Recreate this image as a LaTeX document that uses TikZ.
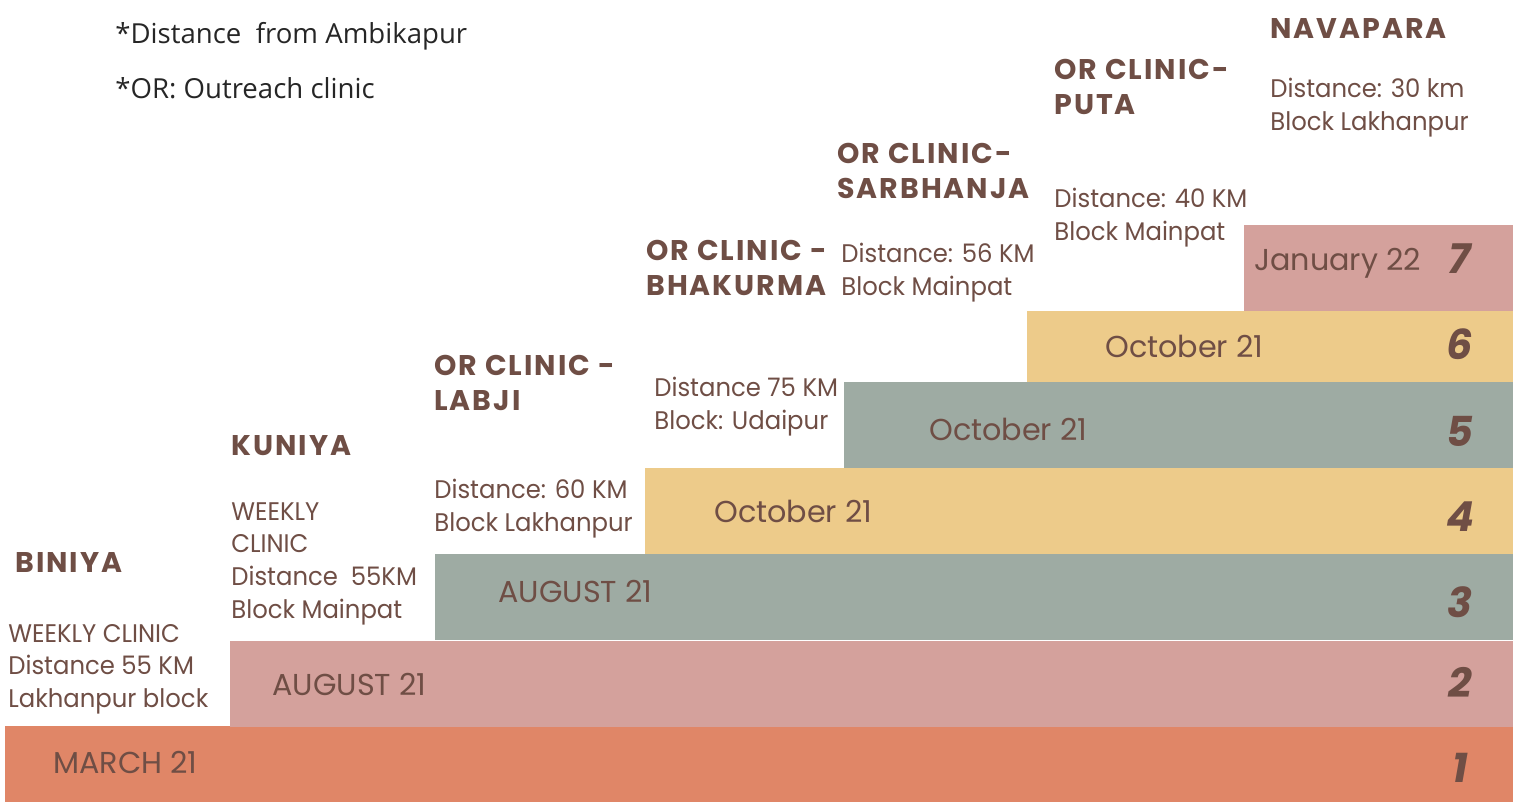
\documentclass[tikz,border=0pt]{standalone}
\usepackage{fontspec}
\setmainfont{Poppins}
\newfontfamily\infofont[FakeStretch=0.955]{Poppins}
\newfontfamily\headfont[LetterSpace=7]{Poppins}
\newfontfamily\notefont{Open Sans}
\usetikzlibrary{positioning, fit}
\definecolor{stepbrown}{HTML}{6F4E45}
\definecolor{steporange}{HTML}{E08667}
\definecolor{steppink}{HTML}{D4A19C}
\definecolor{stepgreen}{HTML}{9EABA3}
\definecolor{stepyellow}{HTML}{EDCB8A}

\begin{document}
\begin{tikzpicture}[x=0.02cm, y=-0.02cm,
    bar/.style={inner sep=0, outer sep=0},
    date/.style={anchor=west, inner sep=0, text=stepbrown, font=\fontsize{17.2}{20}\selectfont},
    num/.style={inner sep=0, text=stepbrown, font=\fontsize{23.5}{26}\selectfont\bfseries\itshape},
    site/.style={anchor=north west, inner sep=0, align=left, text=stepbrown, font=\headfont\bfseries\fontsize{16.2}{19.8}\selectfont},
    info/.style={anchor=north west, inner sep=0, align=left, text=stepbrown, font=\infofont\fontsize{14.5}{18.7}\selectfont},
    note/.style={anchor=base west, inner sep=0, text=black!85, font=\notefont\fontsize{15.7}{18}\selectfont}]
    \useasboundingbox (0,0) rectangle (1513,802);

    % steps, bottom to top
    \node[bar, fill=steporange, fit={(5,726) (1513,802)}] (b1) {};
    \node[bar, fill=steppink, fit={(230,641) (1513,727)}] (b2) {};
    \node[bar, fill=stepgreen, fit={(435,554) (1513,639.5)}] (b3) {};
    \node[bar, fill=stepyellow, fit={(645,468) (1513,554)}] (b4) {};
    \node[bar, fill=stepgreen, fit={(844,382) (1513,468)}] (b5) {};
    \node[bar, fill=stepyellow, fit={(1027,311) (1513,382)}] (b6) {};
    \node[bar, fill=steppink, fit={(1244,225) (1513,311)}] (b7) {};

    \node[date] (d1) at ([xshift=0.96cm, yshift=0.04cm]b1.west) {MARCH 21};
    \node[date] (d2) at ([xshift=0.84cm]b2.west) {AUGUST 21};
    \node[date] (d3) at ([xshift=1.26cm, yshift=0.1cm]b3.west) {AUGUST 21};
    \node[date] (d4) at ([xshift=1.38cm]b4.west) {October 21};
    \node[date] (d5) at ([xshift=1.70cm, yshift=-0.08cm]b5.west) {October 21};
    \node[date] (d6) at ([xshift=1.56cm]b6.west) {October 21};
    \node[date] (d7) at ([xshift=0.20cm, yshift=0.1cm]b7.west) {January 22};

    \foreach \i/\dy in {1/-0.08, 2/0.04, 3/-0.1, 4/-0.12, 5/-0.12, 6/0.04, 7/0.18}
        \node[num] (n\i) at ([xshift=-1.06cm, yshift=\dy cm]b\i.east) {\i};

    % sites
    \node[site] (biniya) at (15,552) {BINIYA};
    \node[info, below=1.02cm of biniya.south west, anchor=north west, xshift=-0.14cm] (biniyainfo) {WEEKLY CLINIC\\Distance 55 KM\\Lakhanpur block};
    \node[site] (kuniya) at (231,435) {KUNIYA};
    \node[info, below=0.92cm of kuniya.south west, anchor=north west] (kuniyainfo) {WEEKLY\\CLINIC\\Distance~~55KM\\Block Mainpat};
    \node[site] (labji) at (434,355) {OR CLINIC -\\LABJI};
    \node[info, below=1.36cm of labji.south west, anchor=north west] (labjiinfo) {Distance: 60 KM\\Block Lakhanpur};
    \node[site] (bhakurma) at (646,240) {OR CLINIC -\\BHAKURMA};
    \node[info] (bhakurmainfo) at (654,377) {Distance 75 KM\\Block: Udaipur};
    \node[site] (sarbhanja) at (837,143) {OR CLINIC-\\SARBHANJA};
    \node[info] (sarbhanjainfo) at (841,243) {Distance: 56 KM\\Block Mainpat};
    \node[site] (puta) at (1054,59) {OR CLINIC-\\PUTA};
    \node[info] (putainfo) at (1054,188) {Distance: 40 KM\\Block Mainpat};
    \node[site] (navapara) at (1270,18) {NAVAPARA};
    \node[info] (navaparainfo) at (1270,78) {Distance: 30 km\\Block Lakhanpur};

    % notes
    \node[note] (note1) at (115,43) {*Distance~~from Ambikapur};
    \node[note] (note2) at (115,98) {*OR: Outreach clinic};
\end{tikzpicture}
\end{document}
